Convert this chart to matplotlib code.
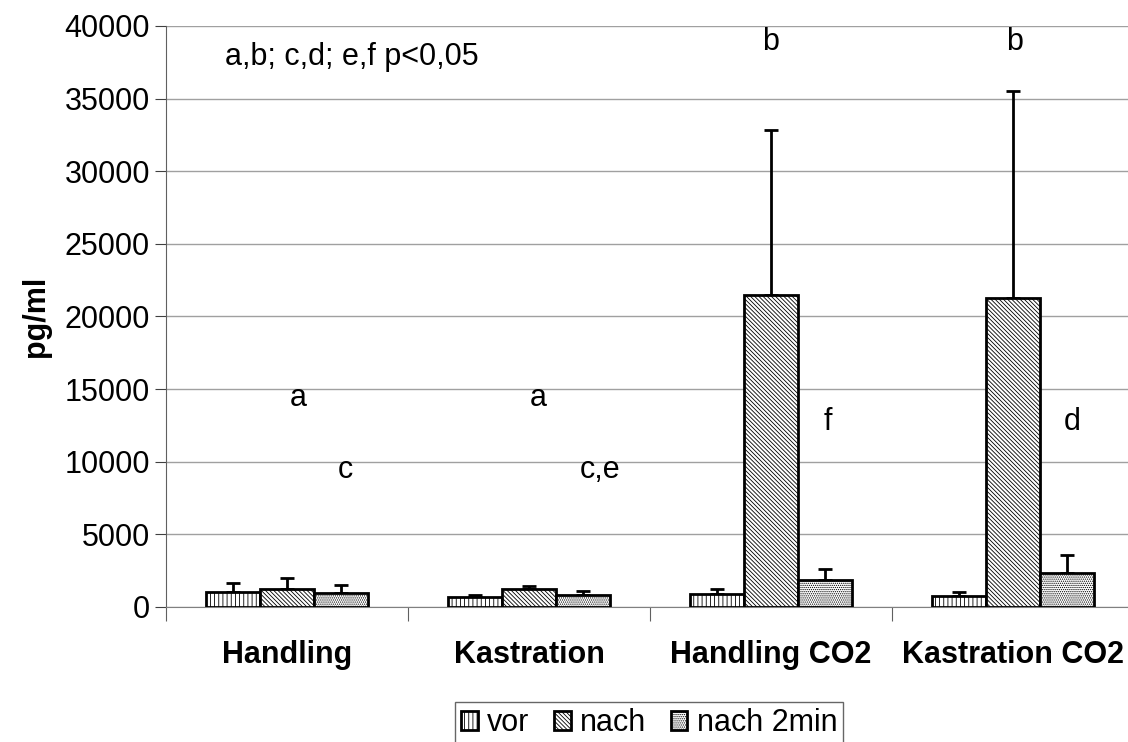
import numpy as np
import matplotlib
matplotlib.use("Agg")
import matplotlib.pyplot as plt

plt.rcParams['font.family'] = ['Liberation Sans', 'DejaVu Sans']
plt.rcParams['hatch.linewidth'] = 0.6

categories = ['Handling', 'Kastration', 'Handling CO2', 'Kastration CO2']
series = ['vor', 'nach', 'nach 2min']
vor = [1050, 690, 895, 780]
vor_err = [620, 140, 325, 230]
nach = [1260, 1240, 21450, 21250]
nach_err = [720, 230, 11400, 14250]
nach2 = [985, 850, 1860, 2320]
nach2_err = [550, 250, 760, 1260]
hatches = ['||||', '\\' * 8, '.' * 8]

letters = [('a', 0.045, 14400), ('c', 0.24, 9450),
           ('a', 1.037, 14400), ('c,e', 1.293, 9450),
           ('b', 2.0, 38900), ('f', 2.236, 12750),
           ('b', 3.008, 38900), ('d', 3.244, 12750)]

fig = plt.figure(figsize=(11.28, 7.42), dpi=100)
ax = fig.add_axes([166 / 1128, 1 - 607 / 742, 1 - 166 / 1128, (607 - 26) / 742])

x = np.arange(len(categories))
w = 0.223
for i, (vals, errs) in enumerate([(vor, vor_err), (nach, nach_err), (nach2, nach2_err)]):
    ax.bar(x + (i - 1) * w, vals, w, color='white', edgecolor='black',
           linewidth=2, hatch=hatches[i], label=series[i], zorder=3)
    ax.errorbar(x + (i - 1) * w, vals, yerr=[np.zeros(len(errs)), errs],
                fmt='none', ecolor='black', elinewidth=2, capsize=5,
                capthick=2, zorder=2)

ax.set_ylim(0, 40000)
ax.set_xlim(-0.5, -0.5 + 962 / 242)
ax.set_yticks(np.arange(0, 40001, 5000))
ax.yaxis.grid(True, color='#a0a0a0', linewidth=1)
ax.set_axisbelow(True)
ax.set_xticks(x - 0.5)
ax.set_xticklabels([])
ax.set_xticks(x, minor=True)
ax.set_xticklabels(categories, minor=True)
ax.tick_params(axis='x', which='minor', length=0, pad=24, labelsize=22)
for lab in ax.get_xticklabels(minor=True):
    lab.set_fontweight('bold')
ax.tick_params(axis='x', which='major', length=10, color='#606060')
ax.tick_params(axis='y', labelsize=22, length=8, color='#404040')
for s in ['top', 'right']:
    ax.spines[s].set_visible(False)
ax.spines['left'].set_color('#606060')
ax.spines['bottom'].set_color('#808080')

ax.set_ylabel('pg/ml', fontsize=22, fontweight='bold', labelpad=10)

ax.text(-0.256, 37900, 'a,b; c,d; e,f p<0,05', fontsize=22, va='center', ha='left')
for t, xx, yy in letters:
    ax.text(xx, yy, t, fontsize=22, ha='center', va='center')

leg = fig.legend(loc='upper left', bbox_to_anchor=(455 / 1128, 1 - 702 / 742),
                 ncol=3, fontsize=22, frameon=True, fancybox=False,
                 borderaxespad=0, handlelength=0.55, handleheight=0.55,
                 handletextpad=0.3, columnspacing=0.8, borderpad=0.2)
leg.get_frame().set_edgecolor('#404040')
leg.get_frame().set_linewidth(1)
for h in leg.legend_handles:
    h.set_linewidth(2)

fig.savefig('out.png', dpi=100)
